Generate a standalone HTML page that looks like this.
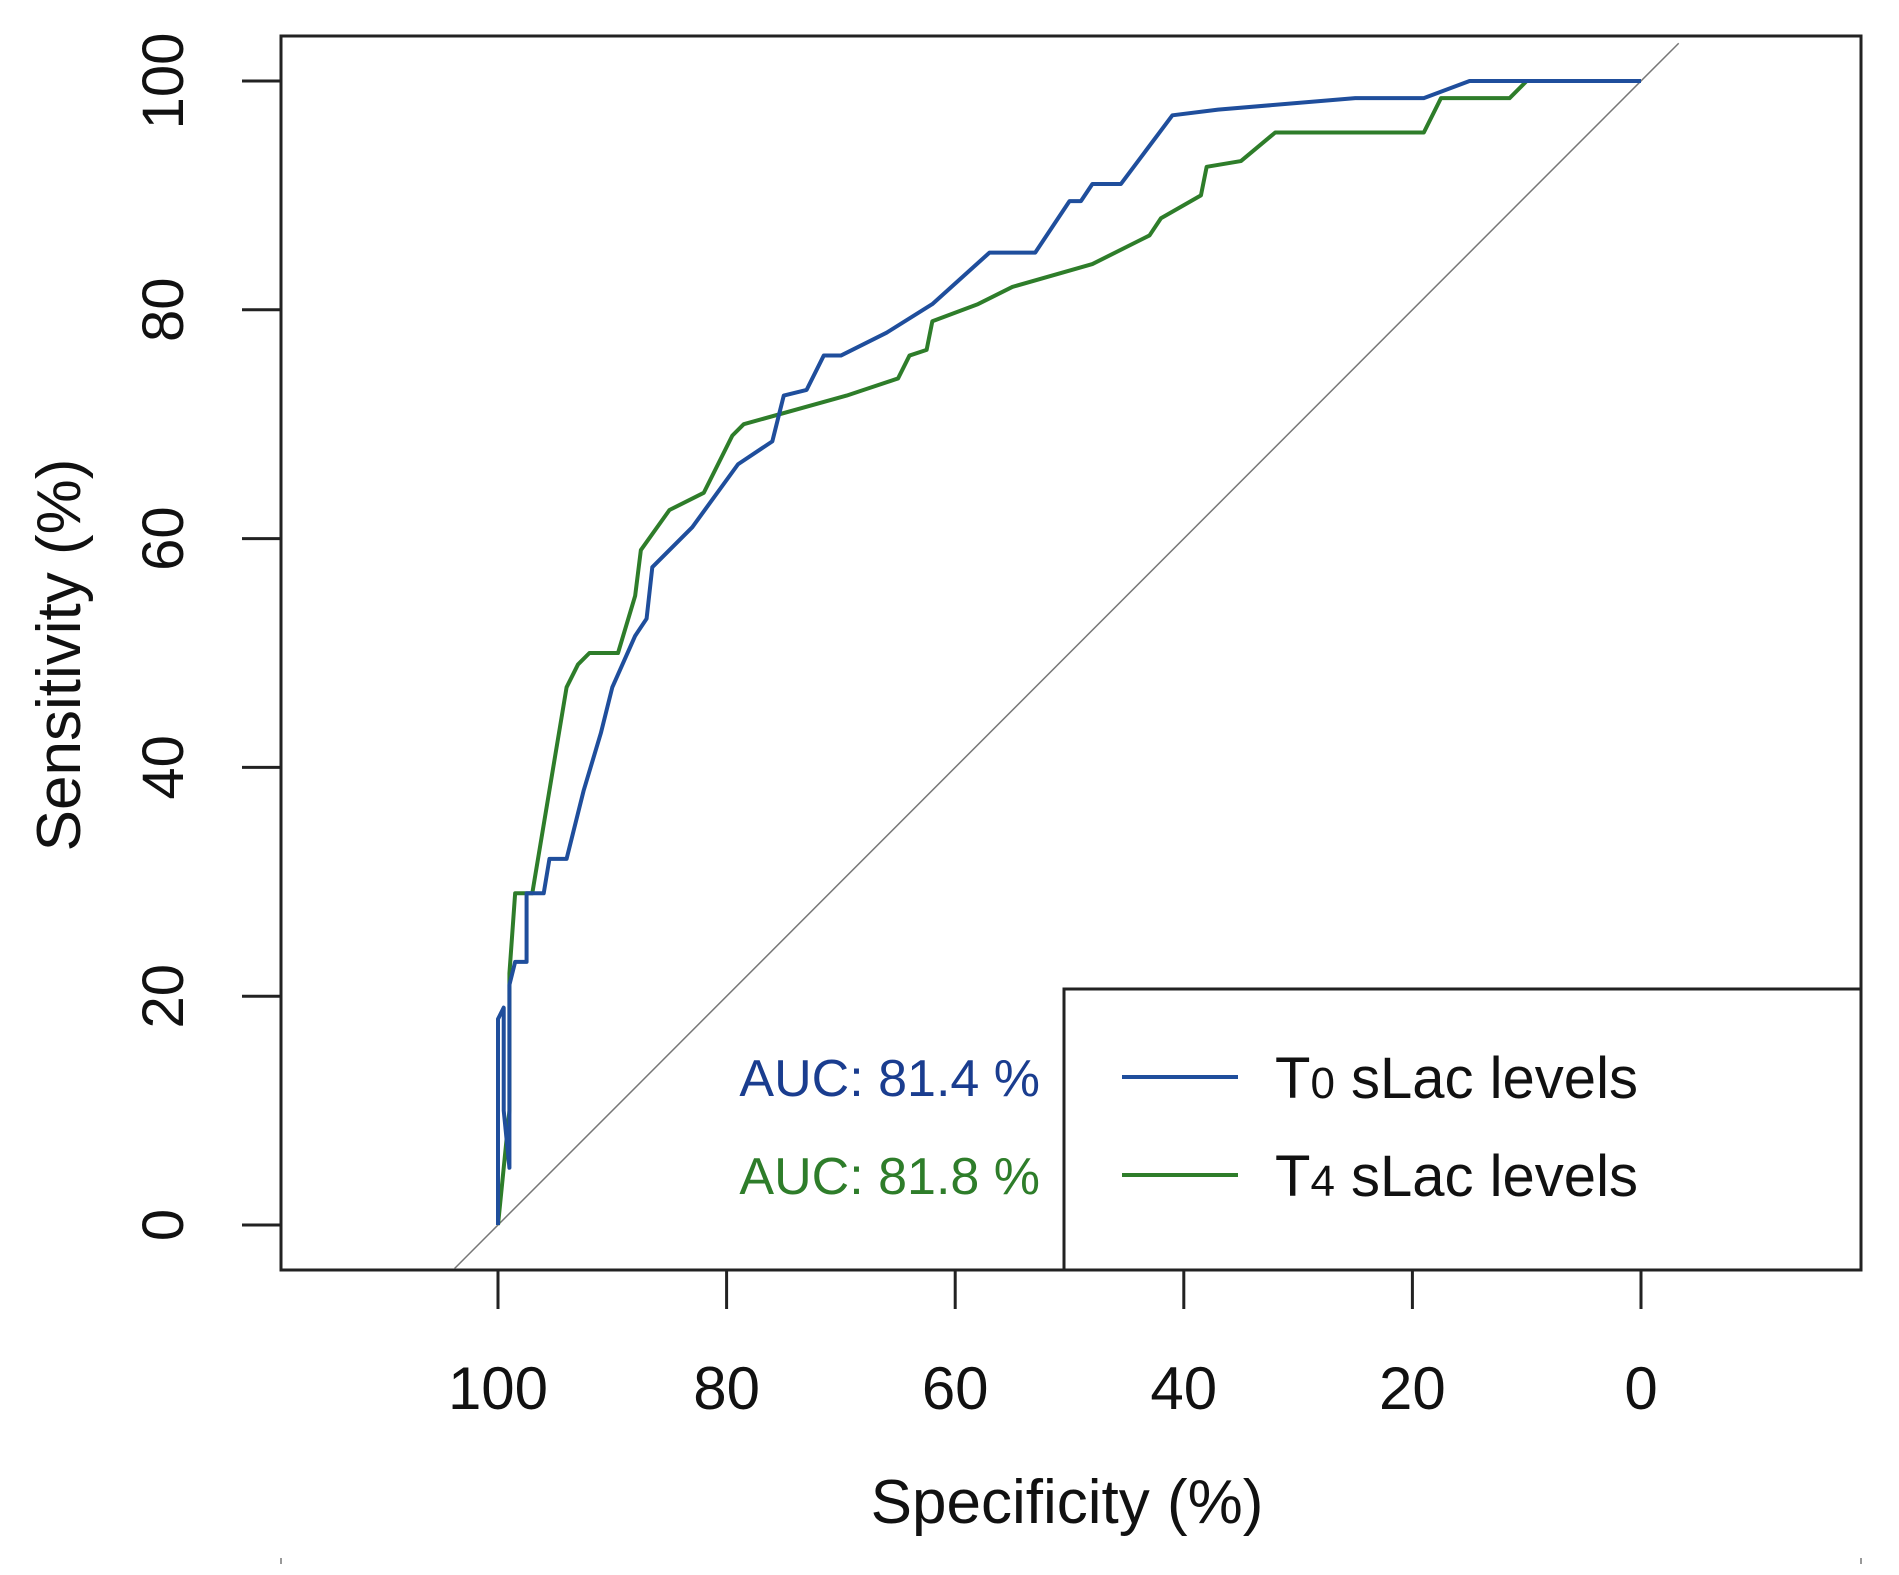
<!DOCTYPE html>
<html><head><meta charset="utf-8"><style>
body{margin:0;background:#fff}
svg{display:block}
text{font-family:"Liberation Sans",sans-serif;fill:#111}
</style></head><body>
<svg id="chart" width="1899" height="1575">
<rect x="281" y="36" width="1580" height="1234" fill="none" stroke="#222" stroke-width="3"/>
<g id="axes"></g>
<line id="diag" stroke="#777" stroke-width="1.5"/>
<g id="series"></g>
<g>
<rect x="1064" y="989" width="797" height="281" fill="#fff" stroke="#222" stroke-width="3"/>
<line x1="1122" y1="1077" x2="1238" y2="1077" stroke="#1f4e9c" stroke-width="4"/>
<line x1="1122" y1="1175" x2="1238" y2="1175" stroke="#2e7d2a" stroke-width="4"/>
<text x="1275" y="1098" font-size="58">T<tspan font-size="44">0</tspan> sLac levels</text>
<text x="1275" y="1196" font-size="58">T<tspan font-size="44">4</tspan> sLac levels</text>
<text x="1040" y="1096" font-size="52" text-anchor="end" style="fill:#1a3d8f">AUC: 81.4 %</text>
<text x="1040" y="1194" font-size="52" text-anchor="end" style="fill:#2e7d2a">AUC: 81.8 %</text>
</g>
<text x="1067" y="1523" font-size="62" text-anchor="middle">Specificity (%)</text>
<text transform="translate(80,655) rotate(-90)" font-size="62" text-anchor="middle">Sensitivity (%)</text>
<line x1="281" y1="1558" x2="281" y2="1564" stroke="#999" stroke-width="2"/>
<line x1="1861" y1="1558" x2="1861" y2="1564" stroke="#999" stroke-width="2"/>
</svg>
<script>
const xTicks=[100,80,60,40,20,0];
const yTicks=[0,20,40,60,80,100];
const t0Spec=[100,100,99.5,99.5,99,99,98.5,97.5,97.5,96,95.5,94,93,92.5,91,90,88,87,86.5,83,79,76,75,73,71.5,70,66,62,57,53,50,49,48,45.5,41,37,25,19,15,0];
const t0Sens=[0,18,19,10,5,21,23,23,29,29,32,32,36,38,43,47,51.5,53,57.5,61,66.5,68.5,72.5,73,76,76,78,80.5,85,85,89.5,89.5,91,91,97,97.5,98.5,98.5,100,100];
const t4Spec=[100,99,99,98.5,97,95,94,93,92,89.5,88,87.5,85,82,79.5,78.5,69.5,68,65,64,62.5,62,58,55,48,45,43,42,38.5,38,35,32,19,17.5,11.5,10,0];
const t4Sens=[0,10,22,29,29,41,47,49,50,50,55,59,62.5,64,69,70,72.5,73,74,76,76.5,79,80.5,82,84,85.5,86.5,88,90,92.5,93,95.5,95.5,98.5,98.5,100,100];
const NS='http://www.w3.org/2000/svg';
const X=v=>1641+(498-1641)*v/100;
const Y=v=>1225+(81-1225)*v/100;
const axes=document.getElementById('axes');
function mk(tag,attrs,parent){const e=document.createElementNS(NS,tag);for(const k in attrs)e.setAttribute(k,attrs[k]);parent.appendChild(e);return e;}
xTicks.forEach(t=>{
 const l=mk('line',{x1:X(t),x2:X(t),y1:1270,y2:1309,stroke:'#222','stroke-width':3},axes);
 
 
 const tx=mk('text',{x:X(t),y:1409,'font-size':60,'text-anchor':'middle'},axes);
 tx.textContent=t;
 
 
});
yTicks.forEach(t=>{
 const l=mk('line',{x1:242,x2:281,y1:Y(t),y2:Y(t),stroke:'#222','stroke-width':3},axes);
 
 
 const tx=mk('text',{transform:`translate(183,${Y(t)}) rotate(-90)`,'font-size':58,'text-anchor':'middle'},axes);
 tx.textContent=t;
 
 
});
const d=document.getElementById('diag');
d.setAttribute('x1',X(103.8));d.setAttribute('y1',Y(-3.8));
d.setAttribute('x2',X(-3.3));d.setAttribute('y2',Y(103.3));
const g=document.getElementById('series');
function series(sp,se,color,name){
 const p=mk('polyline',{points:sp.map((s,i)=>X(s)+','+Y(se[i])).join(' '),fill:'none',stroke:color,'stroke-width':4,'stroke-linejoin':'round'},g);
 
 
}
series(t4Spec,t4Sens,'#2e7d2a','roc-line-t4');
series(t0Spec,t0Sens,'#1f4e9c','roc-line-t0');
</script>
</body></html>
